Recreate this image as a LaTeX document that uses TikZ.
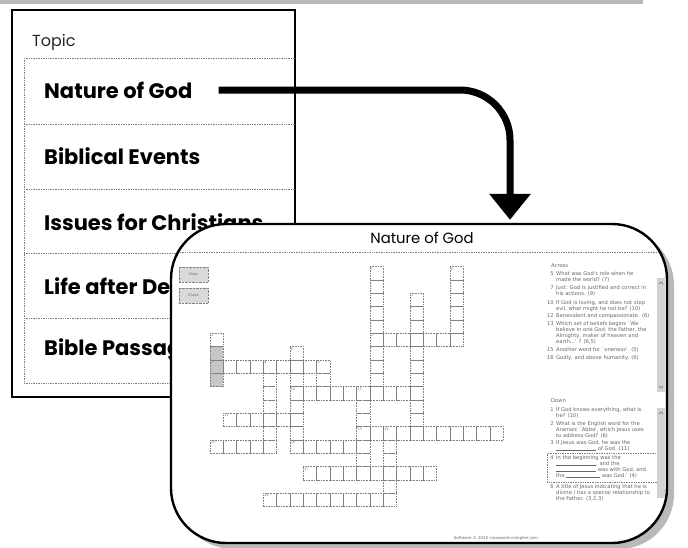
\documentclass[tikz,border=0pt]{standalone}
\usepackage{fontspec}
\setmainfont{Poppins}
\newfontfamily\cluefont{DejaVu Sans}
\usetikzlibrary{arrows.meta, shadows}
\tikzset{sep/.style={gray, densely dotted, line width=0.7pt}}
\tikzset{topicitem/.style={anchor=west, inner sep=0pt, font=\bfseries\fontsize{21}{24}\selectfont}}
\tikzset{flow/.style={line width=7pt, rounded corners=50pt, -{Triangle[width=40pt, length=26pt]}}}
\tikzset{card/.style={draw, line width=2.4pt, fill=white, rounded corners=55pt, minimum width=496pt, minimum height=319pt, drop shadow={shadow xshift=7pt, shadow yshift=-6pt, fill=gray!55, opacity=1}}}
\tikzset{cell/.style={draw=gray, densely dotted, line width=0.6pt}}
\tikzset{cellnum/.style={anchor=north west, inner sep=0.7pt, font=\cluefont\fontsize{3.5}{4}\selectfont, text=gray}}
\tikzset{clue/.style={anchor=north west, inner sep=0pt, align=left, text=black!60, font=\cluefont\fontsize{5.2}{6}\selectfont}}
\tikzset{btn/.style={draw=gray, densely dotted, fill=gray!30, minimum width=29pt, minimum height=15pt, inner sep=0pt, font=\cluefont\fontsize{3.5}{4}\selectfont, text=black!60}}
\newcommand\cw{13.333}

\begin{document}
\begin{tikzpicture}[x=1pt, y=-1pt]
    \useasboundingbox (0,0) rectangle (688,547);
    \fill[gray!55] (0,0) rectangle (643,4);
    % topic list
    \draw[line width=1.5pt] (12,10) rectangle (295,397);
    \node[anchor=west, inner sep=0pt, font=\fontsize{16}{18}\selectfont, text=black!85] (head) at (32,42) {Topic};
    \foreach \y in {58,124,189,253,318,383}
        \draw[sep] (24,\y) -- (295,\y);
    \draw[sep] (24,58) -- (24,383);
    \node[topicitem] (nog) at (44,90) {Nature of God};
    \node[topicitem] (bib) at (44,156) {Biblical Events};
    \node[topicitem] (iss) at (44,222) {Issues for Christians};
    \node[topicitem] (life) at (44,286) {Life after Death};
    \node[topicitem] (pass) at (44,350) {Bible Passages};
    % crossword card
    \node[card] (card) at (419,383.5) {};
    \draw[flow] ([xshift=26pt]nog.east) -| ([xshift=91pt, yshift=3pt]card.north);
    \node[inner sep=0pt, font=\fontsize{14.8}{16}\selectfont] (title) at (422,238) {Nature of God};
    \draw[sep] (180,252) -- (658,252);
    \node[btn] (clear) at (193.5,274.5) {Clear};
    \node[btn] (check) at (193.5,295.5) {Check};
    \begin{scope}[shift={(210,266.67)}]
        \foreach \r in {6,7,8}
            \fill[gray!45] (0,{\r*\cw}) rectangle ++(\cw,\cw);
        \foreach \c/\r/\n in {12/5/7, 0/7/9, 6/9/10, 1/11/6, 11/12/11, 0/13/5, 6/13/6, 7/15/10, 4/17/10}
            \foreach \k in {1,...,\n}
                \draw[cell] ({(\c+\k-1)*\cw},{\r*\cw}) rectangle ++(\cw,\cw);
        \foreach \c/\r/\n in {12/0/10, 18/0/6, 15/2/11, 0/5/4, 6/6/8, 4/7/7, 8/7/3, 11/9/7, 13/12/6}
            \foreach \k in {1,...,\n}
                \draw[cell] ({\c*\cw},{(\r+\k-1)*\cw}) rectangle ++(\cw,\cw);
        \foreach \c/\r/\t in {12/0/1, 18/0/2, 15/2/3, 0/5/4, 12/5/5, 6/6/6, 0/7/7, 4/7/8, 8/7/9, 6/9/10, 11/9/11, 1/11/12, 11/12/13, 13/12/14, 0/13/15, 6/13/16, 7/15/17, 4/17/18}
            \node[cellnum] (num\t) at ({\c*\cw},{\r*\cw}) {\t};
    \end{scope}
    % clues
    \node[clue] (across) at (551,263.5) {Across};
    \node[clue] (a5) at (556,271.5) {\llap{5\hspace{2.5pt}}What was God's role when he\\made the world? (7)};
    \node[clue] (a7) at (556,285.5) {\llap{7\hspace{2.5pt}}Just: God is justified and correct in\\his actions. (9)};
    \node[clue] (a10) at (556,300.5) {\llap{10\hspace{2.5pt}}If God is loving, and does not stop\\evil, what might he not be? (10)};
    \node[clue] (a12) at (556,313.5) {\llap{12\hspace{2.5pt}}Benevolent and compassionate. (6)};
    \node[clue] (a13) at (556,321.5) {\llap{13\hspace{2.5pt}}Which set of beliefs begins `We\\believe in one God, the Father, the\\Almighty, maker of heaven and\\earth...' ? (6,5)};
    \node[clue] (a15) at (556,347.5) {\llap{15\hspace{2.5pt}}Another word for `oneness'. (5)};
    \node[clue] (a16) at (556,355.5) {\llap{16\hspace{2.5pt}}Godly, and above humanity. (6)};
    \node[clue] (down) at (551,398.5) {Down};
    \node[clue] (d1) at (556,407.5) {\llap{1\hspace{2.5pt}}If God knows everything, what is\\he? (10)};
    \node[clue] (d2) at (556,421.5) {\llap{2\hspace{2.5pt}}What is the English word for the\\Aramaic `Abba', which Jesus uses\\to address God? (6)};
    \node[clue] (d3) at (556,440.5) {\llap{3\hspace{2.5pt}}If Jesus was God, he was the\\\rule{40pt}{0.3pt} of God. (11)};
    \draw[sep] (547,453.5) rectangle (657,482);
    \node[clue] (d4) at (556,455.5) {\llap{4\hspace{2.5pt}}In the beginning was the\\\rule{40pt}{0.3pt}, and the\\\rule{40pt}{0.3pt} was with God, and\\the \rule{34pt}{0.3pt} was God.' (4)};
    \node[clue] (d6) at (556,484) {\llap{6\hspace{2.5pt}}A title of Jesus indicating that he is\\divine / has a special relationship to\\the Father. (3,2,3)};
    \fill[gray!35] (657,278) rectangle (665,392);
    \fill[gray!35] (657,408) rectangle (665,498);
    \draw[black!60, line width=0.4pt] (659,284) -- (661,282) -- (663,284);
    \draw[black!60, line width=0.4pt] (659,386) -- (661,388) -- (663,386);
    \draw[black!60, line width=0.4pt] (659,414) -- (661,412) -- (663,414);
    \node[inner sep=0pt, text=black!60, font=\cluefont\fontsize{4}{5}\selectfont] (foot) at (496,538) {Software \textcopyright{} 2015 crossword-compiler.com};
\end{tikzpicture}
\end{document}
